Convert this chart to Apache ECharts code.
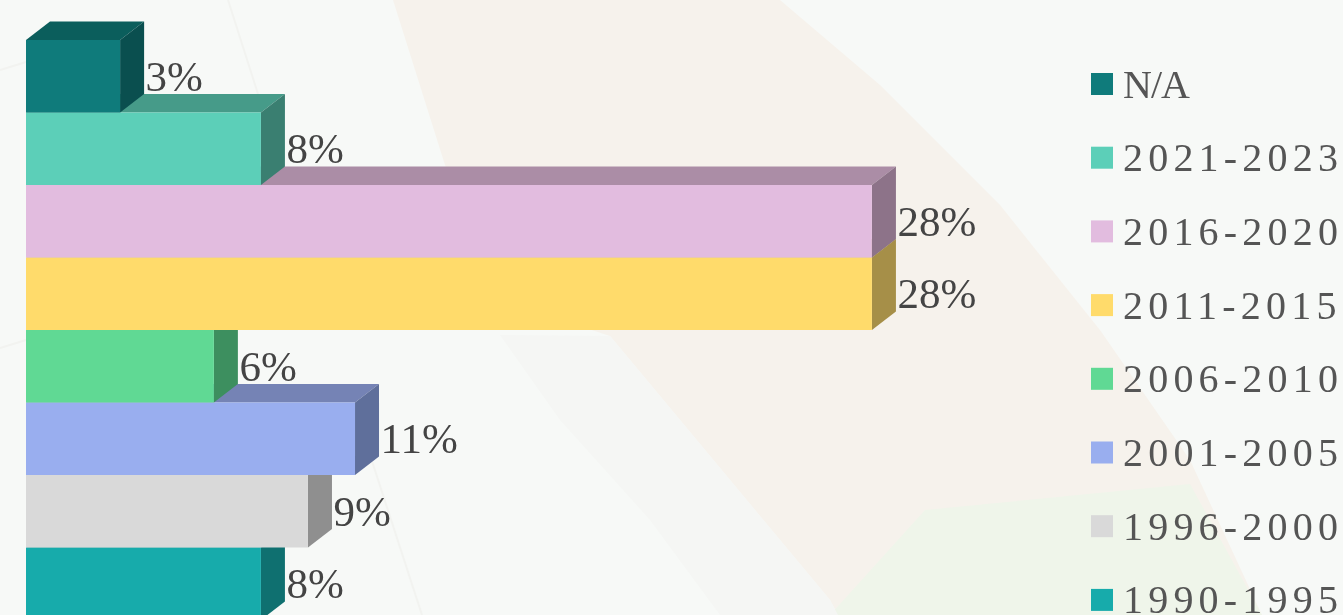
<!DOCTYPE html>
<html><head><meta charset="utf-8">
<style>html,body{margin:0;padding:0;background:#f7f9f7;overflow:hidden}#c{width:1343px;height:615px;filter:blur(0.6px)}</style>
<script src="https://cdn.jsdelivr.net/npm/echarts@6/dist/echarts.min.js"></script></head>
<body><div id="c"></div>
<script>
const categories = ['N/A','2021-2023','2016-2020','2011-2015','2006-2010','2001-2005','1996-2000','1990-1995'];
const shares = [3.08,7.69,27.69,27.69,6.15,10.77,9.23,7.69];
const labels = ['3%','8%','28%','28%','6%','11%','9%','8%'];
const frontColors = ['#0f7b7b','#5ccfb8','#e2bcdf','#ffdb6b','#60d994','#99aeef','#d9d9d9','#17abab'];
const topColors   = ['#0b5e5c','#469b89','#ab8da6','#bfa450','#489f6f','#7583b5','#a3a3a3','#118080'];
const sideColors  = ['#0a4f4f','#3a7f71','#8d7389','#a68f48','#3d8f5f','#5f6f9b','#8f8f8f','#0f7070'];
const depthX = 24, depthY = 18.5;

const chart = echarts.init(document.getElementById('c'), null, {renderer:'svg'});
const seriesList = categories.map((name,i)=>({name,i})).reverse().map(({name,i})=>({
  name, type:'custom', coordinateSystem:'cartesian2d', silent:true, animation:false,
  itemStyle:{color:frontColors[i]},
  encode:{x:0,y:1},
  data:[[shares[i],name]],
  renderItem(params,api){
    const end = api.coord([api.value(0), name]);
    const start = api.coord([0, name]);
    const band = api.size([0,1])[1];
    const x0=start[0], x1=end[0], y0=end[1]-band/2, y1=end[1]+band/2;
    return {type:'group',children:[
      {type:'polygon',shape:{points:[[x0,y0],[x0+depthX,y0-depthY],[x1+depthX,y0-depthY],[x1,y0]]},style:{fill:topColors[i]}},
      {type:'polygon',shape:{points:[[x1,y0],[x1+depthX,y0-depthY],[x1+depthX,y1-depthY],[x1,y1]]},style:{fill:sideColors[i]}},
      {type:'rect',shape:{x:x0,y:y0,width:x1-x0,height:y1-y0},style:{fill:frontColors[i]}},
      {type:'text',x:x1+depthX+1.5,y:end[1],style:{text:labels[i],fill:'#444',font:'43px "Liberation Serif"',textAlign:'left',textVerticalAlign:'middle'}}
    ]};
  }
}));
chart.setOption({
  animation:false,
  backgroundColor:'#f7f9f7',
  graphic:[
    {type:'polygon',silent:true,z:-10,shape:{points:[[393,0],[780,0],[880,85],[1000,205],[1100,330],[1190,460],[1262,615],[838,615],[830,600],[610,336],[500,300],[445,165]]},style:{fill:'#f6f2ec'}},
    {type:'polygon',silent:true,z:-9,shape:{points:[[830,615],[925,510],[1190,484],[1262,615]]},style:{fill:'#eff5ea'}},
    {type:'polygon',silent:true,z:-8,shape:{points:[[500,335],[610,336],[830,600],[838,615],[720,615],[650,520],[560,420]]},style:{fill:'#f5f6f4'}},
    {type:'polyline',silent:true,z:-7,shape:{points:[[228,0],[258,94]]},style:{stroke:'#f2f3f0',lineWidth:2,fill:null}},
    {type:'polyline',silent:true,z:-7,shape:{points:[[370,455],[422,615]]},style:{stroke:'#f2f3f0',lineWidth:2,fill:null}},
    {type:'polyline',silent:true,z:-7,shape:{points:[[0,70],[26,62]]},style:{stroke:'#f2f3f0',lineWidth:2,fill:null}},
    {type:'polyline',silent:true,z:-7,shape:{points:[[0,348],[26,340]]},style:{stroke:'#f2f3f0',lineWidth:2,fill:null}}
  ],
  grid:{left:26,top:40,width:916.5,height:580,outerBoundsMode:'none'},
  xAxis:{type:'value',min:0,max:30,show:false},
  yAxis:{type:'category',inverse:true,data:categories,show:false},
  legend:{
    show:true,left:1091,top:64,height:700,padding:0,orient:'vertical',icon:'rect',itemWidth:22,itemHeight:22,itemGap:33.7,
    data:categories,selectedMode:false,
    textStyle:{color:'#555',fontFamily:'"Liberation Serif"',fontSize:40,padding:[0,0,0,5]}
  },
  series:seriesList
});
function spaceLegend(){
  document.querySelectorAll('#c text').forEach(t=>{
    const s=t.textContent.trim();
    if(/^\d{4}-\d{4}$/.test(s)) t.style.letterSpacing='5.2px';
    if(s==='N/A') t.style.letterSpacing='-1px';
  });
}
spaceLegend();
chart.on('finished',spaceLegend);
</script></body></html>
